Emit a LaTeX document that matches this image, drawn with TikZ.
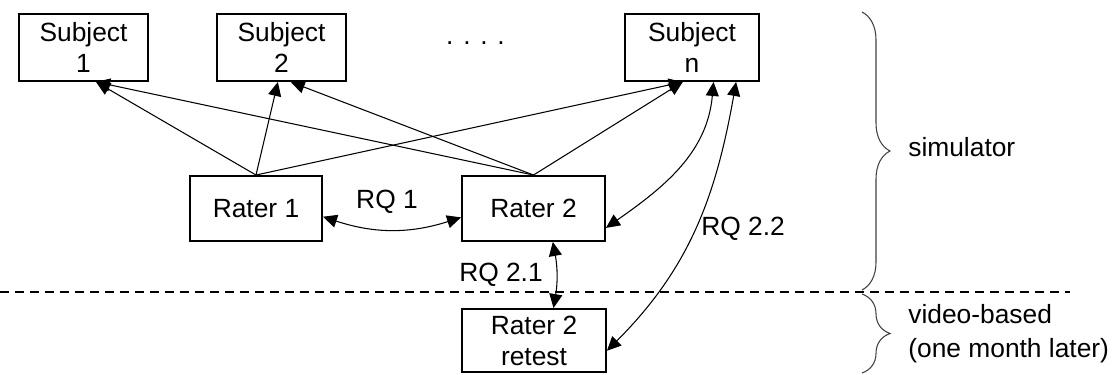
\documentclass[tikz,border=0pt]{standalone}
\usepackage{fontspec}
\setmainfont{Liberation Sans}
\usetikzlibrary{arrows.meta, decorations.pathreplacing}
\tikzset{
  % Box for subjects and raters
  Box/.style={rectangle,draw=black,line width=1.1pt,align=center,
              minimum width=#1,minimum height=1.34cm,inner sep=2pt,
              font=\fontsize{15}{17.6}\selectfont},
  Box/.default=2.6cm,
  % Plain text label
  Lbl/.style={font=\fontsize{15}{17.6}\selectfont,inner sep=0pt},
  % Arrows -- single and double headed
  Arr/.style ={-{Triangle[length=0.28cm,width=0.26cm]},line width=0.6pt},
  DArr/.style={{Triangle[length=0.28cm,width=0.26cm]}-{Triangle[length=0.28cm,width=0.26cm]},
               line width=0.6pt},
  % Curly brace and phase separator
  Brc/.style={decorate,decoration={brace,amplitude=0.56cm},
              line width=0.6pt,black!75},
  Sep/.style={dash pattern=on 0.18cm off 0.12cm,line width=1.1pt},
}

\begin{document}
\begin{tikzpicture}[x=0.02cm,y=0.02cm]
      \useasboundingbox (0,0) rectangle (1115,-375);
      % Subjects -- top row
      \node[Box=2.58cm] at (83.5,-47.5) (sub1) {Subject\\1};
      \node[Box=2.58cm] at (281.5,-47.5) (sub2) {Subject\\2};
      \node[Lbl,anchor=base] at (475.5,-45) (dots) {. . . .};
      \node[Box=2.68cm] at (692,-47.5) (subn) {Subject\\n};
      % Raters
      \node[Box=2.64cm,minimum height=1.3cm] at (256,-208.5) (rater1) {Rater 1};
      \node[Box=2.86cm,minimum height=1.3cm] at (533.5,-208.5) (rater2) {Rater 2};
      \node[Box=2.88cm,minimum height=1.26cm] at (534,-340.5) (retest)
            {Rater 2\\retest};
      % Ratings -- straight arrows to the subjects
      \foreach \s/\a in {sub1/-70, sub2/-96, subn/-105}
        \draw[Arr] (rater1.north) -- (\s.\a);
      \foreach \s/\a in {sub1/-70, sub2/-75, subn/-105}
        \draw[Arr] (rater2.north) -- (\s.\a);
      % Research questions
      \draw[DArr] (rater1.-7) to[bend right=18] (rater2.-173);
      \draw[DArr] (rater2.-15) to[out=35,in=-95] (subn.-58);
      \draw[DArr] (retest.-8) to[out=45,in=-100] (subn.-38);
      \draw[DArr] (rater2.-60) to[bend left=10] (retest.59);
      \node[Lbl] at (387,-202) (rq1) {RQ 1};
      \node[Lbl] at (501,-275) (rq21) {RQ 2.1};
      \node[Lbl] at (743,-229) (rq22) {RQ 2.2};
      % Phases
      \draw[Sep] (0,-292) -- (1070,-292);
      \draw[Brc] (862,-12) -- (862,-290);
      \draw[Brc] (862,-294) -- (862,-373);
      \node[Lbl,anchor=west] at (908,-147) (sim) {simulator};
      \node[Lbl,anchor=west,align=left,font=\fontsize{15}{19.3}\selectfont]
            at (908,-334) (vid) {video-based\\(one month later)};
\end{tikzpicture}
\end{document}
